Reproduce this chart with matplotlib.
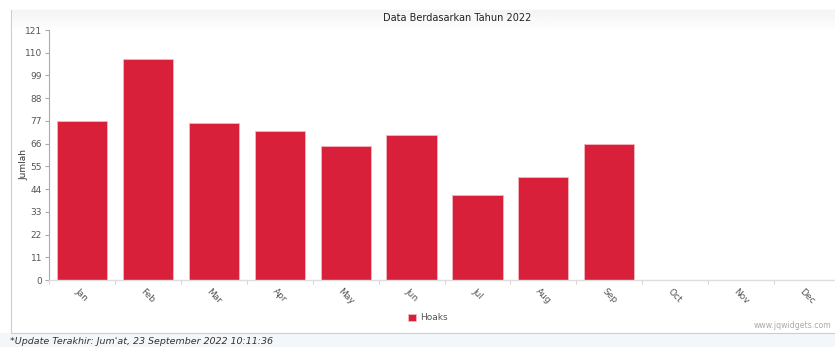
import matplotlib.pyplot as plt
import numpy as np
from matplotlib.patches import Rectangle

months = ["Jan", "Feb", "Mar", "Apr", "May", "Jun",
          "Jul", "Aug", "Sep", "Oct", "Nov", "Dec"]
hoaks = [77, 107, 76, 72, 65, 70, 41, 50, 66, 0, 0, 0]
yticks = [0, 11, 22, 33, 44, 55, 66, 77, 88, 99, 110, 121]

W, H = 835, 347
fig = plt.figure(figsize=(W / 100, H / 100), dpi=100)

# page background / panel frame
fig.patches.append(Rectangle((0, 0), 1, 14 / H, transform=fig.transFigure,
                             facecolor="#f4f7fa", edgecolor="none", zorder=0))
fig.patches.append(Rectangle((11 / W, 14 / H), 1, 323 / H, transform=fig.transFigure,
                             facecolor="white", edgecolor="#c8ced6", lw=0.8, zorder=0))
# header gradient
grad = np.linspace(0.955, 1.0, 64).reshape(-1, 1)
hax = fig.add_axes([11.5 / W, (H - 32) / H, 1, 22 / H], zorder=1)
hax.imshow(grad, cmap="gray", vmin=0, vmax=1, aspect="auto", extent=[0, 1, 0, 1])
hax.axis("off")

ax = fig.add_axes([49 / W, 67 / H, 791 / W, 250 / H], zorder=2)
ax.set_facecolor("none")
x = np.arange(len(months))
ax.bar(x, hoaks, width=0.76, color="#d8203b", edgecolor="#f3b6c0", linewidth=0.6,
       label="Hoaks")
ax.set_xlim(-0.5, 11.5)
ax.set_ylim(0, 121)
ax.set_yticks(yticks)
ax.set_yticklabels([str(v) for v in yticks], fontsize=6.5, color="#555555")
ax.set_xticks(x)
ax.set_xticklabels(months, fontsize=6.5, color="#555555", rotation=-45,
                   ha="center", va="top")
ax.set_xticks(np.arange(-0.5, 12, 1), minor=True)
ax.tick_params(axis="x", which="major", length=0, pad=5)
ax.tick_params(axis="x", which="minor", length=3, color="#cccccc")
ax.tick_params(axis="y", length=3, color="#aaaaaa", pad=2)
for s in ["top", "right"]:
    ax.spines[s].set_visible(False)
ax.spines["left"].set_color("#aaaaaa")
ax.spines["left"].set_linewidth(0.8)
ax.spines["bottom"].set_color("#dddddd")
ax.spines["bottom"].set_linewidth(1.0)
ax.set_ylabel("Jumlah", fontsize=6.5, color="#333333")
ax.yaxis.set_label_coords(-21 / 791, 0.46)

fig.text(457 / W, 1 - 18 / H, "Data Berdasarkan Tahun 2022", fontsize=7,
         ha="center", va="center", color="#222222")

leg = fig.legend(loc="center", bbox_to_anchor=(428 / W, 1 - 318 / H), frameon=False,
                 fontsize=6.5, handlelength=0.8, handleheight=0.8, handletextpad=0.5)
for t in leg.get_texts():
    t.set_color("#555555")

fig.text(831 / W, 1 - 325 / H, "www.jqwidgets.com", fontsize=5.6, color="#aaaaaa",
         ha="right", va="center")
fig.text(10 / W, 1 - 341 / H, "*Update Terakhir: Jum'at, 23 September 2022 10:11:36",
         fontsize=6.8, style="italic", color="#333333", ha="left", va="center")

fig.savefig("out.png", dpi=100)
